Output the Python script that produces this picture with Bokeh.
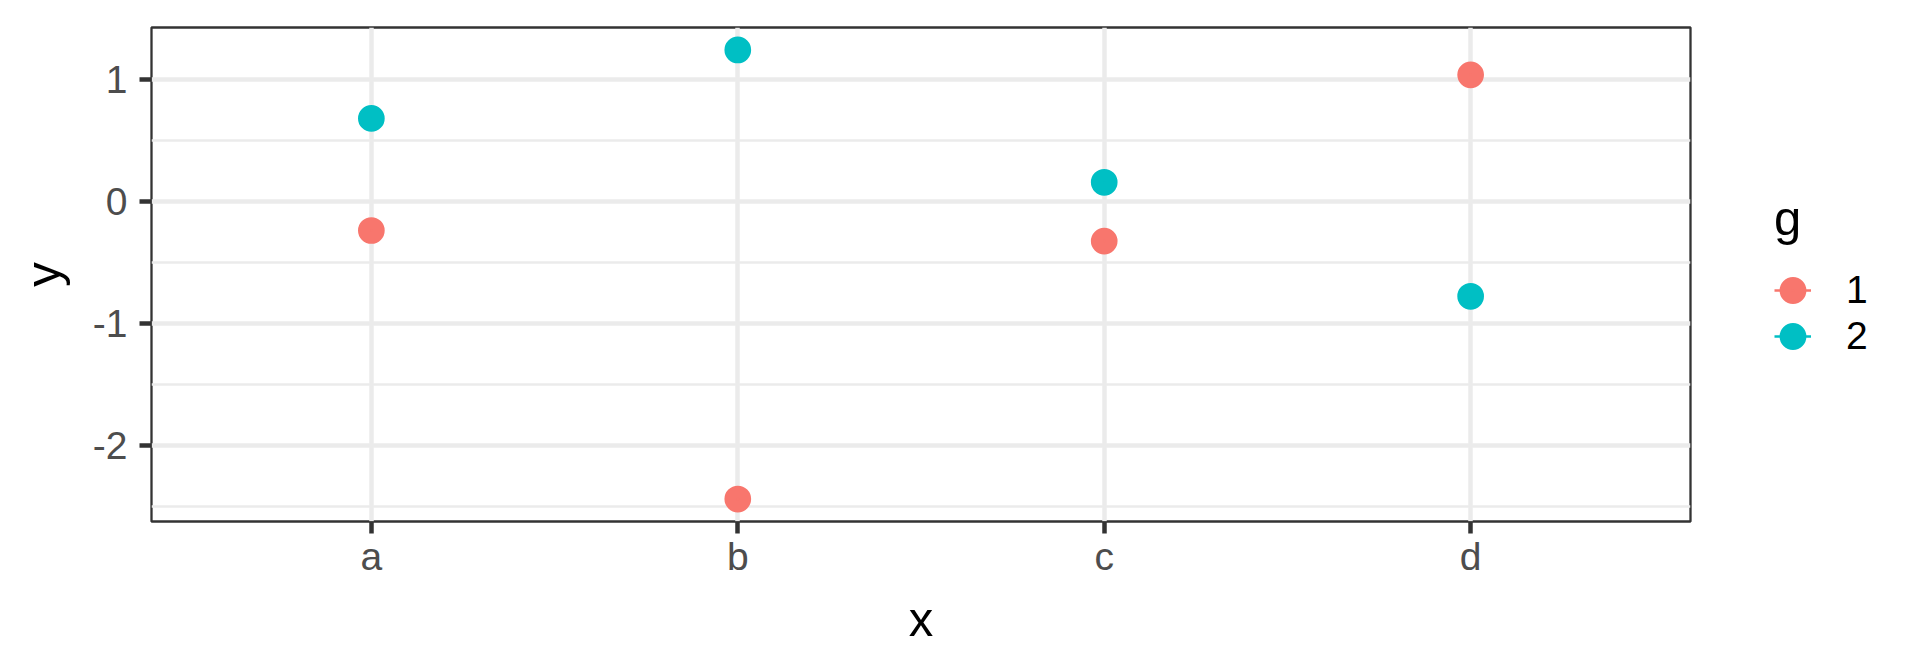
import math
from bokeh.plotting import figure
from bokeh.layouts import row
from bokeh.models import (Range1d, FixedTicker, Legend, LegendItem, ColumnDataSource)
from bokeh.embed import file_html
from bokeh.resources import INLINE

# ---- data ----
categories = ["a", "b", "c", "d"]
group_labels = ["1", "2"]
y_g1 = [-0.239, -2.439, -0.326, 1.036]
y_g2 = [0.679, 1.240, 0.156, -0.778]
colors = ["#F8766D", "#00BFC4"]
y_ticks = [-2, -1, 0, 1]
y_minor = [-2.5, -1.5, -0.5, 0.5]

FONT = "Liberation Sans"
TICK_COLOR = "#333333"

x_pos = [i + 1 for i in range(len(categories))]
all_y = y_g1 + y_g2
ymin, ymax = min(all_y), max(all_y)
pad = 0.05 * (ymax - ymin)

MAIN_W, LEG_W, H = 1700, 204, 656

p = figure(width=MAIN_W, height=H, output_backend="svg", toolbar_location=None,
           x_range=Range1d(0.4, len(categories) + 0.6),
           y_range=Range1d(ymin - pad, ymax + pad),
           min_border_left=151, min_border_right=10,
           min_border_top=27, min_border_bottom=135)

p.background_fill_color = "white"
p.border_fill_color = "white"
p.outline_line_color = TICK_COLOR
p.outline_line_width = 2.3

# axes
p.xaxis.ticker = FixedTicker(ticks=x_pos)
p.xaxis.major_label_overrides = {x: c for x, c in zip(x_pos, categories)}
p.yaxis.ticker = FixedTicker(ticks=y_ticks, minor_ticks=y_minor)
p.yaxis.major_label_overrides = {t: str(t) for t in y_ticks}

for ax in (p.xaxis[0], p.yaxis[0]):
    ax.axis_line_color = None
    ax.major_tick_line_color = TICK_COLOR
    ax.major_tick_line_width = 4.5
    ax.major_tick_out = 12
    ax.major_tick_in = 0
    ax.minor_tick_out = 0
    ax.minor_tick_in = 0
    ax.major_label_text_font = FONT
    ax.major_label_text_font_size = "39px"
    ax.major_label_text_color = "#4D4D4D"
    ax.axis_label_text_font = FONT
    ax.axis_label_text_font_size = "49px"
    ax.axis_label_text_font_style = "normal"
    ax.axis_label_text_color = "black"

p.xaxis.axis_label = "x"
p.yaxis.axis_label = "y"
p.xaxis.major_label_standoff = 1
p.xaxis.axis_label_standoff = 11
p.yaxis.major_label_standoff = 12
p.yaxis.axis_label_standoff = 20

# grid
p.xgrid.ticker = FixedTicker(ticks=x_pos)
p.ygrid.ticker = FixedTicker(ticks=y_ticks, minor_ticks=y_minor)
for g in (p.xgrid[0], p.ygrid[0]):
    g.grid_line_color = "#EBEBEB"
    g.grid_line_width = 4.5
p.ygrid.minor_grid_line_color = "#EBEBEB"
p.ygrid.minor_grid_line_width = 2.3

# points
for lab, ys, col in zip(group_labels, [y_g1, y_g2], colors):
    src = ColumnDataSource(dict(x=x_pos, y=ys))
    p.scatter("x", "y", source=src, size=14.7, fill_color=col,
              line_color=col, line_width=12)

# ---- legend panel (separate figure to the right) ----
pl = figure(width=LEG_W, height=H, output_backend="svg", toolbar_location=None,
            x_range=Range1d(0, 1), y_range=Range1d(0, 1),
            x_axis_type=None, y_axis_type=None, min_border=0)
pl.outline_line_color = None
pl.background_fill_color = "white"
pl.border_fill_color = "white"
pl.xgrid.visible = False
pl.ygrid.visible = False

items = []
for lab, col in zip(group_labels, colors):
    lr = pl.line(x=[float("nan")], y=[float("nan")], line_color=col, line_width=2.5)
    sr = pl.scatter(x=[float("nan")], y=[float("nan")], size=14.7, fill_color=col,
                    line_color=col, line_width=12)
    items.append(LegendItem(label=lab, renderers=[lr, sr]))

legend = Legend(items=items, title="g", location=(58, 146),
                title_text_font=FONT, title_text_font_size="49px",
                title_text_font_style="normal", title_text_color="black",
                title_standoff=21,
                label_text_font=FONT, label_text_font_size="39px",
                label_text_color="black", label_standoff=35,
                glyph_width=37, glyph_height=46, spacing=0,
                padding=16, margin=0,
                border_line_alpha=0, background_fill_alpha=0)
pl.add_layout(legend, "center")

layout = row(p, pl, spacing=0)
open("out.html", "w").write(file_html(layout, INLINE))
